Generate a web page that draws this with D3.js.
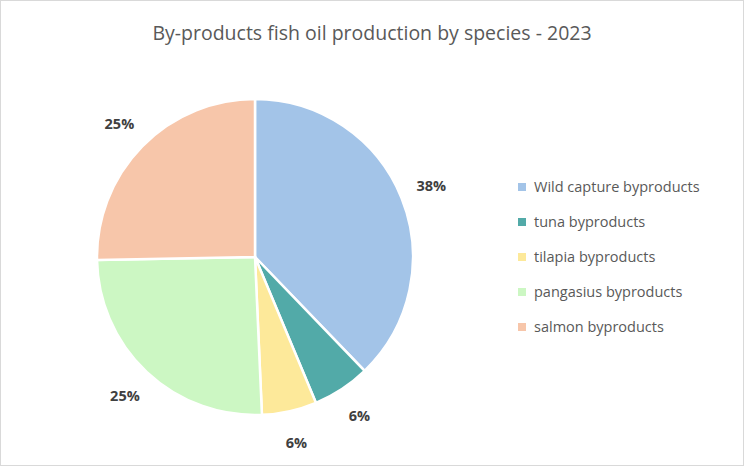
<!DOCTYPE html><html><head><meta charset="utf-8"><script src="https://cdn.jsdelivr.net/npm/d3@7"></script>
<style>body{margin:0;background:#fff}svg{display:block}</style></head><body><svg width="744" height="466"></svg>
<script>
const categories=["Wild capture byproducts","tuna byproducts","tilapia byproducts","pangasius byproducts","salmon byproducts"];
const values=[37.8,5.9,5.6,25.4,25.3];
const labels=["38%","6%","6%","25%","25%"];
const colors=["#A3C4E8","#52AAA8","#FDE99A","#CCF7C3","#F7C6AA"];
const svg=d3.select("svg");
svg.append("rect").attr("x",0.5).attr("y",0.5).attr("width",743).attr("height",465).attr("fill","#fff").attr("stroke","#d9d9d9");
svg.append("text").attr("x",372).attr("y",40).attr("text-anchor","middle").attr("font-family","Open Sans, sans-serif").attr("font-size",19.5).attr("fill","#595959").text("By-products fish oil production by species - 2023");
const cx=255,cy=257,r=158;
const pie=d3.pie().sort(null).value(d=>d)(values);
const arc=d3.arc().innerRadius(0).outerRadius(r);
const g=svg.append("g").attr("transform",`translate(${cx},${cy})`);
g.selectAll("path").data(pie).join("path").attr("d",arc).attr("fill",(d,i)=>colors[i]).attr("stroke","#fff").attr("stroke-width",2.5);
const la=d3.arc().innerRadius(190).outerRadius(190);
g.selectAll("text").data(pie).join("text").attr("transform",d=>`translate(${la.centroid(d)})`).attr("text-anchor","middle").attr("dy","0.35em")
 .attr("font-family","Open Sans, sans-serif").attr("font-weight","bold").attr("font-size",14.5).attr("fill","#404040").text((d,i)=>labels[i]);
const lg=svg.append("g");
categories.forEach((c,i)=>{const y=187+i*35;
 lg.append("rect").attr("x",518).attr("y",y-4).attr("width",8).attr("height",8).attr("fill",colors[i]);
 lg.append("text").attr("x",534).attr("y",y).attr("dy","0.35em").attr("font-family","Open Sans, sans-serif").attr("font-size",14.5).attr("fill","#595959").text(c);});
</script></body></html>
